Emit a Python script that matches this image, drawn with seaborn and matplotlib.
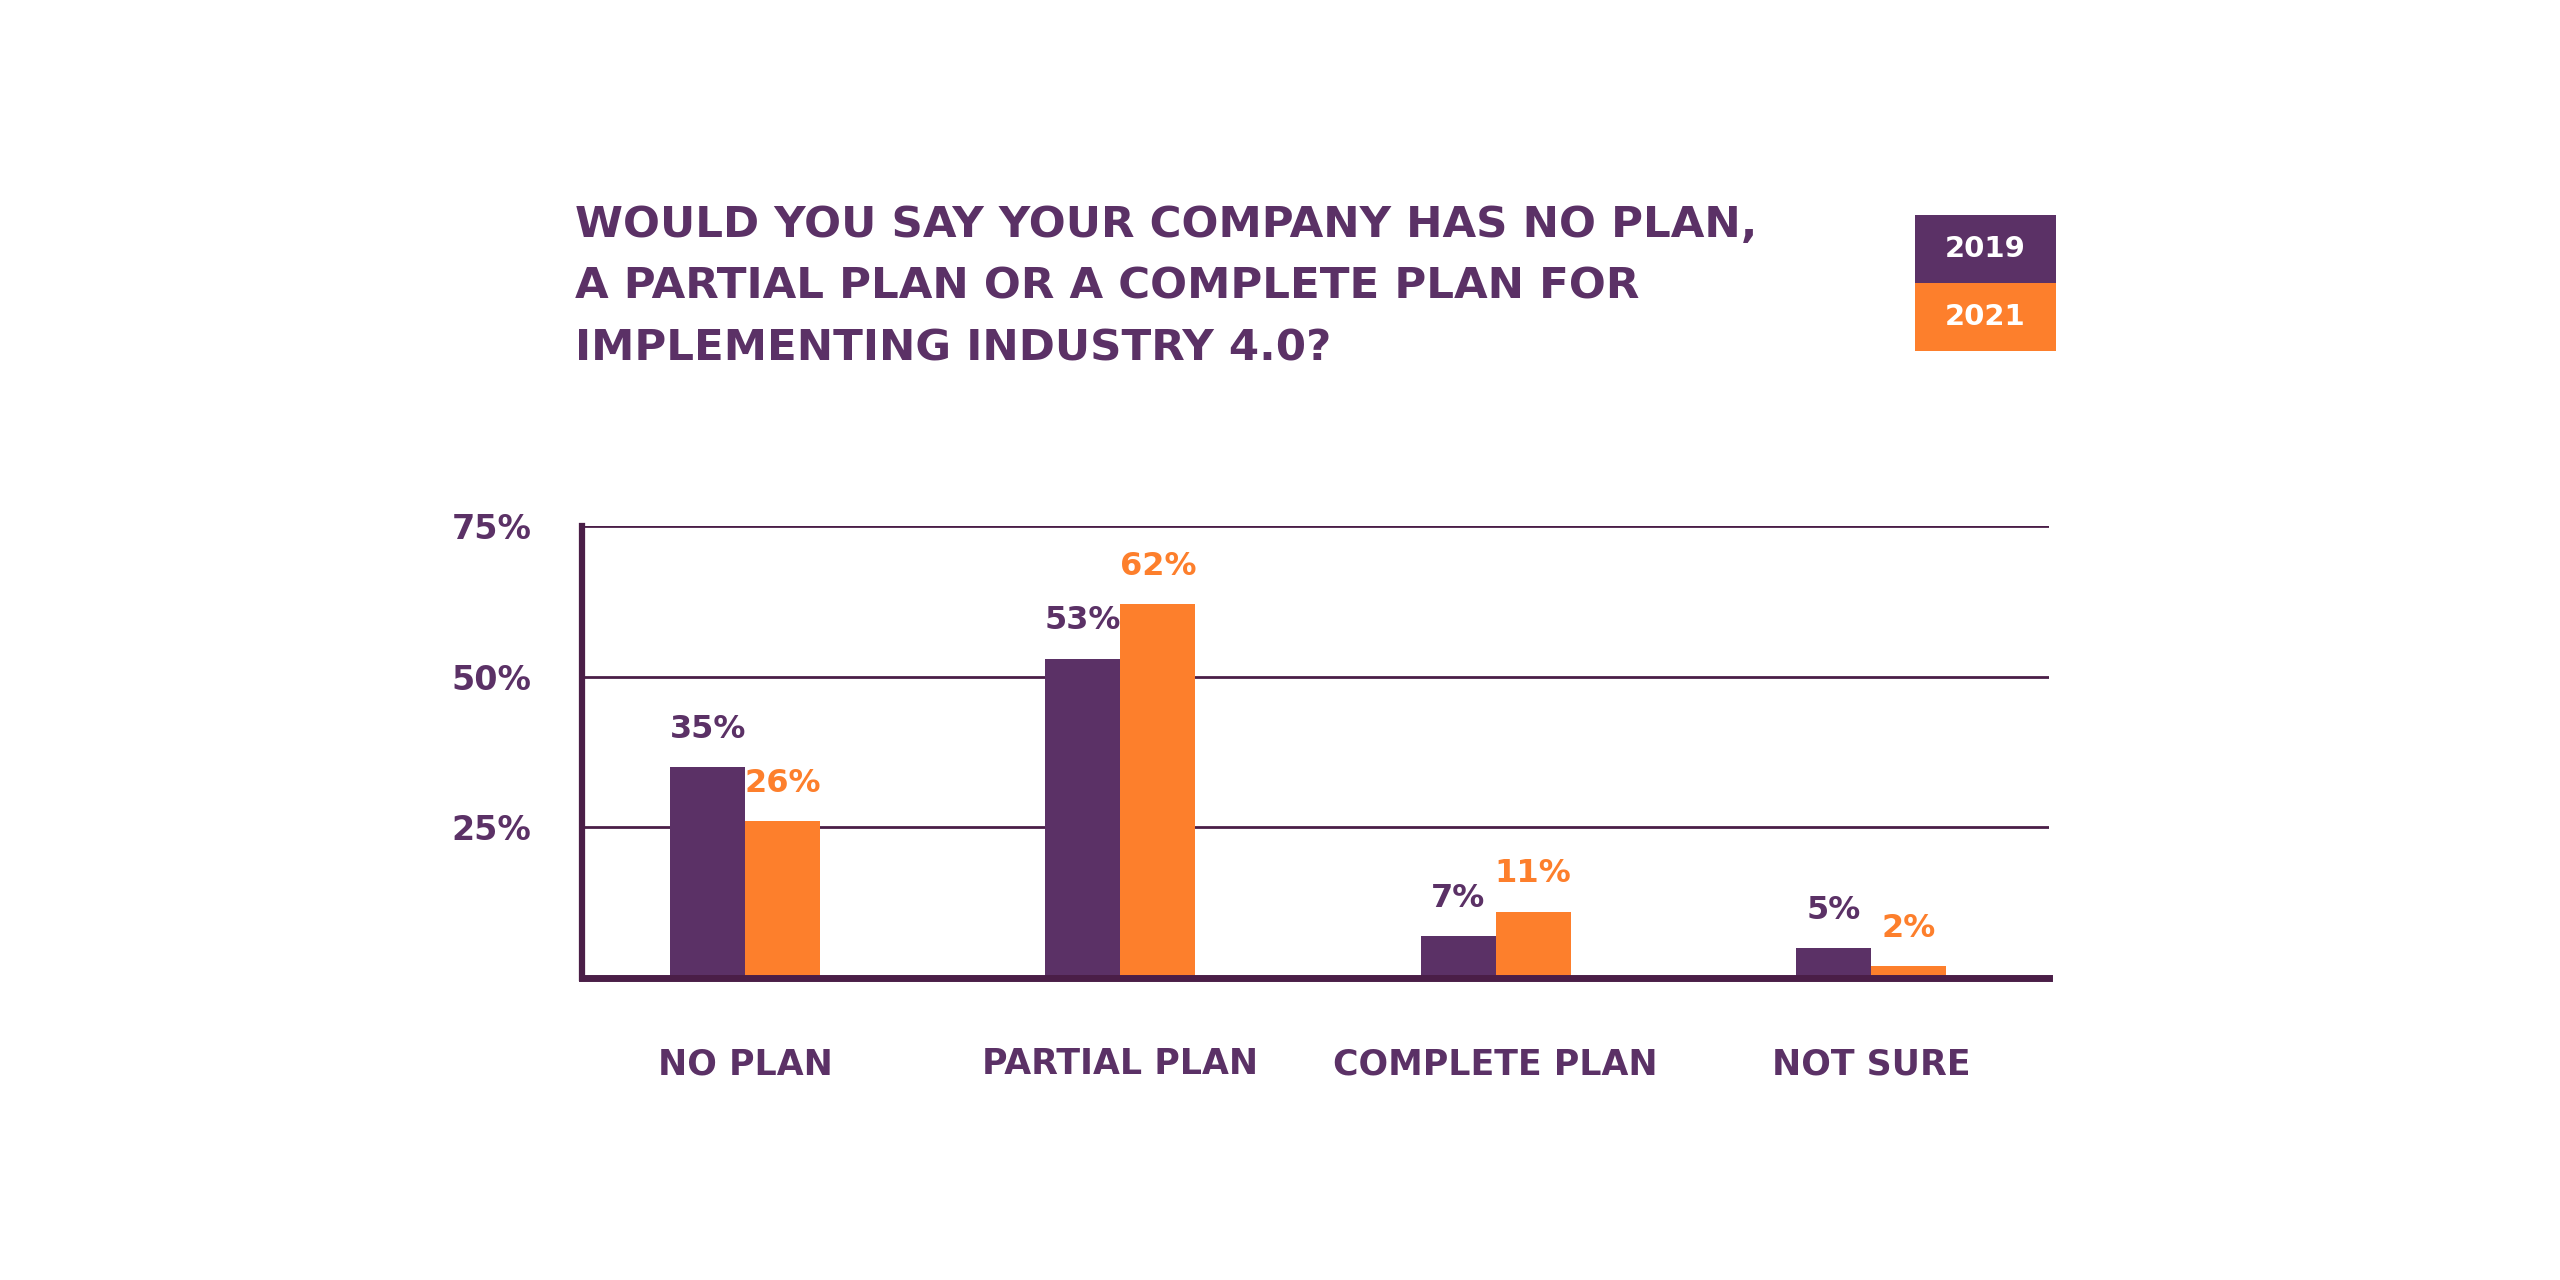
import numpy as np
import pandas as pd
import matplotlib
matplotlib.use("Agg")
import matplotlib.pyplot as plt
from matplotlib.patches import Rectangle
import seaborn as sns

categories = ["NO PLAN", "PARTIAL PLAN", "COMPLETE PLAN", "NOT SURE"]
years = ["2019", "2021"]
values_2019 = [35, 53, 7, 5]
values_2021 = [26, 62, 11, 2]
yticks = [25, 50, 75]
title = ("WOULD YOU SAY YOUR COMPANY HAS NO PLAN,\n"
         "A PARTIAL PLAN OR A COMPLETE PLAN FOR\n"
         "IMPLEMENTING INDUSTRY 4.0?")

purple = "#5B3166"
orange = "#FD7F2C"
dark = "#4A1E47"

sns.set_theme(style="white")
plt.rcParams["font.family"] = ["DejaVu Sans"]
plt.rcParams["font.weight"] = "bold"

df = pd.DataFrame({
    "category": categories * 2,
    "year": [years[0]] * 4 + [years[1]] * 4,
    "value": values_2019 + values_2021,
})

fig = plt.figure(figsize=(25.6, 12.8), dpi=100)
ax = fig.add_axes([0.2273, 0.236, 0.5731, 0.353])

sns.barplot(data=df, x="category", y="value", hue="year",
            palette=[purple, orange], width=0.4, gap=0, linewidth=0,
            saturation=1, legend=False, ax=ax)

for cont, col in zip(ax.containers, [purple, orange]):
    ax.bar_label(cont, labels=[f"{int(v)}%" for v in cont.datavalues],
                 padding=16, color=col, fontsize=23, fontweight="bold")

ax.set_ylim(0, 75)
ax.set_xlim(-0.435, 3.475)
ax.set_yticks(yticks)
ax.set_yticklabels([f"{t}%" for t in yticks])
ax.set_xlabel("")
ax.set_ylabel("")
for t in yticks:
    ax.axhline(t, color=dark, lw=2, zorder=0)

for s in ["top", "right"]:
    ax.spines[s].set_visible(False)
ax.spines["left"].set_color(dark)
ax.spines["left"].set_linewidth(4.5)
ax.spines["bottom"].set_color(dark)
ax.spines["bottom"].set_linewidth(5)

ax.tick_params(axis="y", length=0, pad=94, labelsize=24, labelcolor=purple)
ax.tick_params(axis="x", length=0, pad=50, labelsize=25, labelcolor=purple)
for lab in ax.get_yticklabels():
    lab.set_horizontalalignment("left")
    lab.set_fontweight("bold")
for lab in ax.get_xticklabels():
    lab.set_fontweight("bold")

fig.text(0.2246, 0.841, title, ha="left", va="top", fontsize=31.3,
         fontweight="bold", color=purple, linespacing=1.6)

# legend boxes
fig.patches.append(Rectangle((0.748, 0.779), 0.055, 0.053, transform=fig.transFigure,
                             facecolor=purple, edgecolor="none"))
fig.patches.append(Rectangle((0.748, 0.726), 0.055, 0.053, transform=fig.transFigure,
                             facecolor=orange, edgecolor="none"))
fig.text(0.7755, 0.8055, years[0], ha="center", va="center", color="white",
         fontsize=21, fontweight="bold")
fig.text(0.7755, 0.7525, years[1], ha="center", va="center", color="white",
         fontsize=21, fontweight="bold")

fig.savefig("out.png", dpi=100, facecolor="white")
